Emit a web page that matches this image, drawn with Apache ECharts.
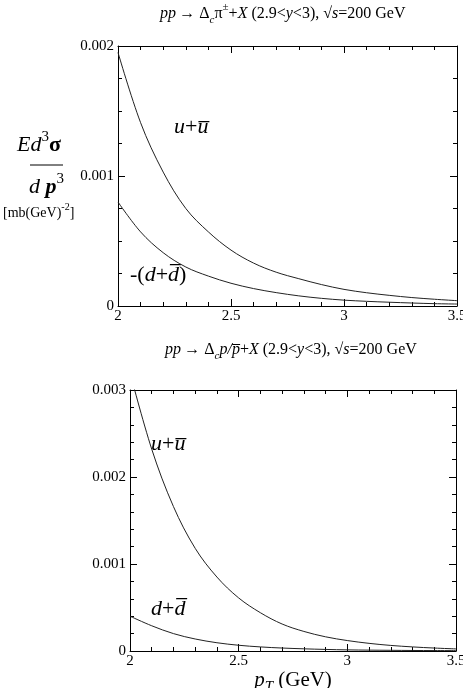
<!DOCTYPE html>
<html>
<head>
<meta charset="utf-8">
<script src="https://cdn.jsdelivr.net/npm/echarts@6/dist/echarts.min.js"></script>
<style>
  html, body { margin: 0; padding: 0; background: #fff; }
  #main { width: 463px; height: 688px; }
</style>
</head>
<body>
<div id="main"></div>
<script>
// p_T grid (GeV)
const pT = [2.0, 2.1, 2.2, 2.3, 2.4, 2.5, 2.6, 2.7, 2.8, 2.9, 3.0, 3.1, 3.2, 3.3, 3.4, 3.5];

// top panel: Delta_c pi+-
const piU = [0.00195, 0.00141, 0.00103, 0.00075, 0.00057, 0.00043, 0.00033, 0.00026, 0.00021, 0.000165,
  0.000128, 0.000102, 0.000082, 0.000065, 0.000052, 0.000041];
const piD = [0.00080, 0.00057, 0.00041, 0.00030, 0.00023, 0.000175, 0.000134, 0.000103, 0.000078, 0.000059,
  0.000045, 0.000036, 0.000029, 0.000023, 0.000018, 0.000015];

// bottom panel: Delta_c p/pbar
const pU = [0.0032, 0.00232, 0.00166, 0.00118, 0.00085, 0.00061, 0.00044, 0.00031, 0.000225, 0.000163,
  0.00012, 0.000088, 0.000064, 0.000047, 0.000034, 0.000024];
const pD = [0.00040, 0.00029, 0.00020, 0.000138, 0.000095, 0.000066, 0.000047, 0.000034, 0.000025, 0.000018,
  0.000013, 0.00001, 0.000008, 0.000006, 0.000005, 0.000004];

const FONT = "Liberation Serif";
const BLACK = "#000";

const pair = (ys) => pT.map((x, i) => [x, ys[i]]);

// rich text styles for mixed italic / roman / sub / sup
const rich = (size) => ({
  i: { fontFamily: FONT, fontStyle: "italic", fontSize: size, lineHeight: size + 8, color: BLACK },
  r: { fontFamily: FONT, fontSize: size, lineHeight: size + 8, color: BLACK },
  b: { fontFamily: FONT, fontWeight: "bold", fontSize: size, lineHeight: size + 8, color: BLACK },
  bi: { fontFamily: FONT, fontStyle: "italic", fontWeight: "bold", fontSize: size, lineHeight: size + 8, color: BLACK },
  sub: { fontFamily: FONT, fontStyle: "italic", fontSize: Math.round(size * 0.7), lineHeight: Math.round(size * 0.7), verticalAlign: "bottom", color: BLACK },
  sup: { fontFamily: FONT, fontSize: Math.round(size * 0.7), lineHeight: Math.round(size * 0.7), verticalAlign: "top", color: BLACK },
});

const xAxisCfg = (gridIndex, mirror) => ({
  type: "value",
  gridIndex: gridIndex,
  position: mirror ? "top" : "bottom",
  min: 2,
  max: 3.5,
  interval: 0.5,
  axisLine: { onZero: false, lineStyle: { color: BLACK, width: 1 } },
  axisTick: { inside: true, length: 7, lineStyle: { color: BLACK } },
  minorTick: { show: true, splitNumber: 5, length: 4, lineStyle: { color: BLACK } },
  splitLine: { show: false },
  axisLabel: { show: !mirror, color: BLACK, fontFamily: FONT, fontSize: 15, margin: 3 },
});

const yAxisCfg = (gridIndex, max, minorSplit, mirror) => ({
  type: "value",
  gridIndex: gridIndex,
  position: mirror ? "right" : "left",
  min: 0,
  max: max,
  interval: 0.001,
  axisLine: { onZero: false, lineStyle: { color: BLACK, width: 1 } },
  axisTick: { inside: true, length: 7, lineStyle: { color: BLACK } },
  minorTick: { show: true, splitNumber: minorSplit, length: 4, lineStyle: { color: BLACK } },
  splitLine: { show: false },
  axisLabel: { show: !mirror, color: BLACK, fontFamily: FONT, fontSize: 15, margin: 4 },
});

const lineSeries = (xi, yi, ys) => ({
  type: "line",
  xAxisIndex: xi,
  yAxisIndex: yi,
  data: pair(ys),
  smooth: 0.35,
  symbol: "none",
  clip: true,
  lineStyle: { color: "#222", width: 1 },
});

const option = {
  animation: false,
  backgroundColor: "#fff",
  grid: [
    { left: 118, top: 46, width: 339, height: 260, outerBoundsMode: "none" },
    { left: 130, top: 390, width: 326, height: 261, outerBoundsMode: "none" },
  ],
  xAxis: [
    xAxisCfg(0, false),
    xAxisCfg(0, true),
    Object.assign(xAxisCfg(1, false), {
      name: "{i|p}{sub|T}{r| (GeV)}",
      nameLocation: "middle",
      nameGap: 13,
      nameTextStyle: { rich: rich(21) },
    }),
    xAxisCfg(1, true),
  ],
  yAxis: [
    yAxisCfg(0, 0.002, 4, false),
    yAxisCfg(0, 0.002, 4, true),
    yAxisCfg(1, 0.003, 5, false),
    yAxisCfg(1, 0.003, 5, true),
  ],
  series: [
    lineSeries(0, 0, piU),
    lineSeries(0, 0, piD),
    lineSeries(2, 2, pU),
    lineSeries(2, 2, pD),
  ],
  graphic: [
    // titles
    {
      type: "text", left: 160, top: 2,
      style: { text: "{i|pp} {r|\u2192 \u0394}{sub|c}{r|\u03c0}{sup|\u00b1}{r|+}{i|X}{r| (2.9<}{i|y}{r|<3), \u221a}{i|s}{r|=200 GeV}", rich: rich(16) },
    },
    {
      type: "text", left: 165, top: 342,
      style: { text: "{i|pp} {r|\u2192 \u0394}{sub|c}{i|p/p\u0305}{r|+}{i|X}{r| (2.9<}{i|y}{r|<3), \u221a}{i|s}{r|=200 GeV}", rich: rich(16) },
    },
    // y label
    {
      type: "text", left: 17, top: 130,
      style: { text: "{i|Ed}{sup|3}{b|\u03c3}", rich: rich(22) },
    },
    { type: "line", shape: { x1: 30, y1: 165, x2: 63, y2: 165 }, style: { stroke: BLACK, lineWidth: 1 } },
    {
      type: "text", left: 29, top: 172,
      style: { text: "{i|d }{bi|p}{sup|3}", rich: rich(22) },
    },
    {
      type: "text", left: 3, top: 202,
      style: { text: "{r|[mb(GeV)}{sup|-2}{r|]}", rich: rich(14) },
    },
    // curve labels
    { type: "text", left: 174, top: 116, style: { text: "{i|u}{r|+}{i|u\u0305}", rich: rich(22) } },
    { type: "text", left: 130, top: 264, style: { text: "{r|-(}{i|d}{r|+}{i|d\u0305}{r|)}", rich: rich(22) } },
    { type: "text", left: 151, top: 433, style: { text: "{i|u}{r|+}{i|u\u0305}", rich: rich(22) } },
    { type: "text", left: 151, top: 598, style: { text: "{i|d}{r|+}{i|d\u0305}", rich: rich(22) } },
  ],
};

const chart = echarts.init(document.getElementById("main"));
chart.setOption(option);
</script>
</body>
</html>
